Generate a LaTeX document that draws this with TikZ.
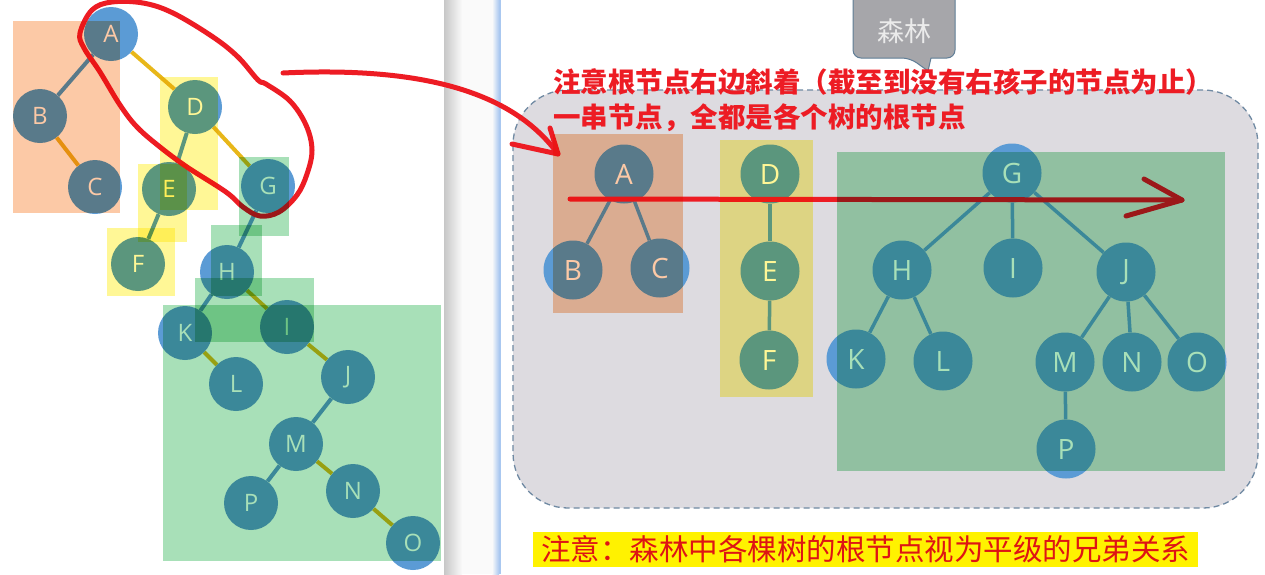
\documentclass[tikz,border=0pt]{standalone}
\usepackage{fontspec}
\setmainfont{Open Sans}
\newfontfamily\cjk{Noto Sans CJK SC}
\usetikzlibrary{calc}
\definecolor{knotblue}{RGB}{91,155,213}
\definecolor{rgold}{RGB}{232,183,26}
\definecolor{peach}{RGB}{252,201,166}
\definecolor{lemon}{RGB}{255,247,150}
\definecolor{mint}{RGB}{168,224,184}
\definecolor{panelgray}{RGB}{221,219,224}
\definecolor{panelline}{RGB}{112,138,163}
\definecolor{tagfill}{RGB}{166,166,170}
\definecolor{tagline}{RGB}{95,125,150}
\definecolor{penred}{RGB}{237,28,36}
\definecolor{notered}{RGB}{222,20,20}
\definecolor{rimblue}{RGB}{170,200,240}

\begin{document}
\begin{tikzpicture}[x=1pt, y=-1pt,
  knot/.style={circle, fill=knotblue, text=white, inner sep=0pt, minimum size=54pt, font=\fontsize{24}{24}\selectfont},
  bigknot/.style={knot, minimum size=59pt, font=\fontsize{28}{28}\selectfont},
  lkid/.style={draw=knotblue, line width=4pt},
  rkid/.style={draw=rgold, line width=4pt},
  twig/.style={draw=knotblue, line width=3.5pt},
  pen/.style={draw=penred, line width=5pt, line cap=round, line join=round}]
\useasboundingbox (0,0) rectangle (1265,574);
\fill[white] (0,0) rectangle (1265,574);
% slide edge and divider
\shade[left color=black!22, right color=black!2] (444,0) rectangle (462,574);
\fill[black!2] (462,0) rectangle (492,574);
\shade[left color=black!2, right color=rimblue] (492,0) rectangle (499,574);
\fill[rimblue] (499,0) rectangle (501,574);
% forest panel
\draw[fill=panelgray, draw=panelline, line width=1.3pt, dash pattern=on 6pt off 4pt, rounded corners=55pt] (513,90) rectangle (1258,508);
\draw[fill=tagfill, draw=tagline, line width=1pt, rounded corners=8pt] (853,-10) -- (853,58) -- (910,58) [sharp corners] -- (928,71) -- (931,58) [rounded corners=8pt] -- (955,58) -- (955,-10) -- cycle;
\node[text=white!92!black, font=\cjk\fontsize{27}{27}\selectfont] (tag) at (904,31) {森林};

% binary tree (left)
\node (la) at (111,34) [knot] {A};
\node (lb) at (40,116) [knot] {B};
\node (lc) at (95,187) [knot] {C};
\node (ld) at (195,107) [knot] {D};
\node (le) at (169,189) [knot] {E};
\node (lf) at (138,264) [knot] {F};
\node (lg) at (268,186) [knot] {G};
\node (lh) at (227,272) [knot] {H};
\node (lk) at (185,333) [knot] {K};
\node (li) at (287,327) [knot] {I};
\node (ll) at (236,384) [knot] {L};
\node (lj) at (348,377) [knot] {J};
\node (lm) at (296,444) [knot] {M};
\node (lp) at (251,503) [knot] {P};
\node (ln) at (353,491) [knot] {N};
\node (lo) at (413,543) [knot] {O};
\draw[lkid] (la) -- (lb);
\draw[rkid] (la) -- (ld);
\draw[rkid] (lb) -- (lc);
\draw[lkid] (ld) -- (le);
\draw[rkid] (ld) -- (lg);
\draw[lkid] (le) -- (lf);
\draw[lkid] (lg) -- (lh);
\draw[lkid] (lh) -- (lk);
\draw[rkid] (lh) -- (li);
\draw[rkid] (lk) -- (ll);
\draw[rkid] (li) -- (lj);
\draw[lkid] (lj) -- (lm);
\draw[lkid] (lm) -- (lp);
\draw[rkid] (lm) -- (ln);
\draw[rkid] (ln) -- (lo);

% forest (right)
\node (ra) at (624,174) [bigknot] {A};
\node (rb) at (573,270) [bigknot] {B};
\node (rc) at (660,268) [bigknot] {C};
\node (rd) at (770,174) [bigknot] {D};
\node (re) at (770,271) [bigknot] {E};
\node (rf) at (769,360) [bigknot] {F};
\node (rg) at (1012,173) [bigknot] {G};
\node (rh) at (902,270) [bigknot] {H};
\node (ri) at (1013,268) [bigknot] {I};
\node (rj) at (1126,272) [bigknot] {J};
\node (rk) at (856,359) [bigknot] {K};
\node (rl) at (943,361) [bigknot] {L};
\node (rm) at (1065,362) [bigknot] {M};
\node (rn) at (1132,362) [bigknot] {N};
\node (ro) at (1197,362) [bigknot] {O};
\node (rp) at (1066,449) [bigknot] {P};
\draw[twig] (ra) -- (rb);
\draw[twig] (ra) -- (rc);
\draw[twig] (rd) -- (re);
\draw[twig] (re) -- (rf);
\draw[twig] (rg) -- (rh);
\draw[twig] (rg) -- (ri);
\draw[twig] (rg) -- (rj);
\draw[twig] (rh) -- (rk);
\draw[twig] (rh) -- (rl);
\draw[twig] (rj) -- (rm);
\draw[twig] (rj) -- (rn);
\draw[twig] (rj) -- (ro);
\draw[twig] (rm) -- (rp);

% pen marks
\draw[pen] plot[smooth cycle, tension=0.6] coordinates {(80,33) (92,10) (112,2) (143,3) (173,13) (213,37) (238,57) (258,80) (266,84) (290,101) (306,125) (312,150) (307,174) (297,195) (279,212) (260,216) (243,207) (226,192) (187,167) (160,147) (137,127) (120,105) (100,72) (84,48)};
\coordinate (hookS) at (283,73);
\coordinate (hookE) at (558,154);
\draw[pen] (hookS) .. controls (430,66) and (515,95) .. (hookE);
\draw[pen] (512,144) -- (hookE) -- (550,128);
\coordinate (sweepS) at (570,199);
\coordinate (sweepE) at (1182,200);
\draw[pen] (sweepS) -- (sweepE);
\draw[pen] (1144,179) -- (sweepE) -- (1126,216);

% highlight boxes
\begin{scope}[blend mode=multiply]
\fill[peach] (13,21) rectangle (120,213);
\fill[lemon] (160,77) rectangle (218,210);
\fill[lemon] (138,164) rectangle (187,242);
\fill[lemon] (107,228) rectangle (175,296);
\fill[mint] (239,157) rectangle (289,236);
\fill[mint] (211,225) rectangle (262,296);
\fill[mint] (195,278) rectangle (314,342);
\fill[mint] (163,305) rectangle (441,561);
\fill[peach] (553,134) rectangle (683,313);
\fill[lemon] (720,140) rectangle (813,397);
\fill[mint] (837,152) rectangle (1225,471);
\end{scope}

\node[anchor=west, inner sep=0pt, text=penred, font=\cjk\bfseries\fontsize{27.5}{27.5}\selectfont] (note1) at (553,82) {注意根节点右边斜着（截至到没有右孩子的节点为止）};
\node[anchor=west, inner sep=0pt, text=penred, font=\cjk\bfseries\fontsize{27.5}{27.5}\selectfont] (note2) at (553,118) {一串节点，全都是各个树的根节点};
\node[fill=yellow, inner sep=0pt, minimum width=665pt, minimum height=35pt, text=notered, font=\cjk\fontsize{29.5}{29.5}\selectfont] (notice) at (865.5,549.5) {注意：森林中各棵树的根节点视为平级的兄弟关系};
\end{tikzpicture}
\end{document}
